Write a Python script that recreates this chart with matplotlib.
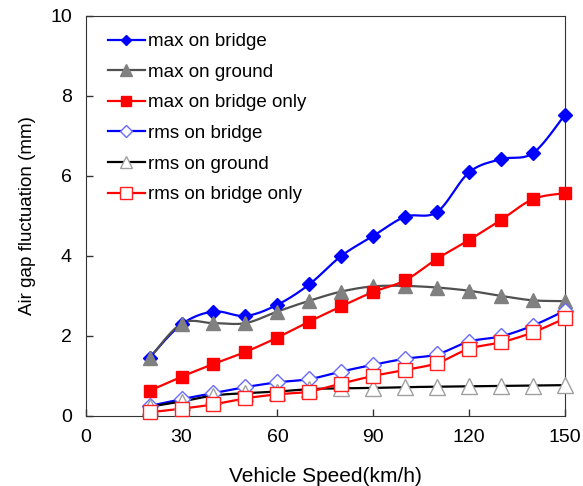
import numpy as np
import matplotlib
matplotlib.use("Agg")
import matplotlib.pyplot as plt

plt.rcParams['font.family'] = ['Liberation Sans', 'DejaVu Sans']

speed = [20, 30, 40, 50, 60, 70, 80, 90, 100, 110, 120, 130, 140, 150]

max_bridge = [1.45, 2.28, 2.60, 2.49, 2.77, 3.28, 3.99, 4.49, 4.97, 5.09, 6.08, 6.41, 6.56, 7.52]
max_ground = [1.43, 2.30, 2.31, 2.31, 2.60, 2.87, 3.10, 3.23, 3.24, 3.20, 3.12, 2.99, 2.88, 2.86]
max_bridge_only = [0.62, 0.97, 1.29, 1.59, 1.95, 2.35, 2.73, 3.09, 3.38, 3.92, 4.39, 4.89, 5.41, 5.56]
rms_bridge = [0.24, 0.41, 0.56, 0.71, 0.83, 0.91, 1.10, 1.27, 1.42, 1.53, 1.85, 1.98, 2.25, 2.62]
rms_ground = [0.22, 0.35, 0.50, 0.56, 0.60, 0.66, 0.68, 0.69, 0.71, 0.72, 0.73, 0.74, 0.75, 0.76]
rms_bridge_only = [0.08, 0.17, 0.28, 0.43, 0.53, 0.60, 0.80, 0.99, 1.14, 1.31, 1.67, 1.83, 2.08, 2.43]


def smooth(x, y, n=20):
    # Catmull-Rom curve through the points (like a spreadsheet "smoothed line")
    p = np.column_stack([x, y]).astype(float)
    p = np.vstack([p[0], p, p[-1]])
    out = []
    t = np.linspace(0, 1, n, endpoint=False)[:, None]
    for i in range(1, len(p) - 2):
        p0, p1, p2, p3 = p[i - 1], p[i], p[i + 1], p[i + 2]
        seg = 0.5 * ((2 * p1) + (-p0 + p2) * t + (2 * p0 - 5 * p1 + 4 * p2 - p3) * t ** 2
                     + (-p0 + 3 * p1 - 3 * p2 + p3) * t ** 3)
        out.append(seg)
    out.append(p[-2][None, :])
    out = np.vstack(out)
    return out[:, 0], out[:, 1]


series = [
    ("max on bridge", max_bridge, dict(color='#0000ff'), dict(marker='D', ms=7, mfc='#0000ff', mec='#0000ff')),
    ("max on ground", max_ground, dict(color='#505050'), dict(marker='^', ms=10, mfc='#808080', mec='#808080')),
    ("max on bridge only", max_bridge_only, dict(color='#ff0000'), dict(marker='s', ms=9, mfc='#ff0000', mec='#ff0000')),
    ("rms on bridge", rms_bridge, dict(color='#0000ff'), dict(marker='D', ms=8, mfc='white', mec='#6a6aff')),
    ("rms on ground", rms_ground, dict(color='#000000'), dict(marker='^', ms=11, mfc='white', mec='#a0a0a0')),
    ("rms on bridge only", rms_bridge_only, dict(color='#ff0000'), dict(marker='s', ms=10, mfc='white', mec='#ff2020')),
]

fig = plt.figure(figsize=(5.83, 4.86), dpi=100)
ax = fig.add_axes([0.147, 0.145, 0.822, 0.823])

handles = []
for label, vals, lstyle, mstyle in series:
    sx, sy = smooth(speed, vals)
    ax.plot(sx, sy, lw=1.6, zorder=2, clip_on=False, **lstyle)
    ax.plot(speed, vals, ls='none', zorder=3, mew=1.0, clip_on=False, **mstyle)
    h, = ax.plot([], [], lw=1.6, label=label, mew=1.0, **lstyle,
                 **{k: (v * 0.8 if k == 'ms' else v) for k, v in mstyle.items()})
    handles.append(h)

ax.set_xlim(0, 150)
ax.set_ylim(0, 10)
ax.set_xticks(range(0, 151, 30))
ax.set_yticks(range(0, 11, 2))
ax.tick_params(direction='in', length=5, labelsize=14, pad=10, width=1, color='#333333')
for s in ax.spines.values():
    s.set_color('#333333')
ax.set_xlabel("Vehicle Speed(km/h)", fontsize=15, labelpad=15)
ax.set_ylabel("Air gap fluctuation (mm)", fontsize=13.5, labelpad=10)

ax.legend(handles=handles, loc='upper left', frameon=False, fontsize=13.5,
          handlelength=2.0, handletextpad=0.15, labelspacing=0.72,
          borderaxespad=0.0, bbox_to_anchor=(0.03, 0.975))

fig.savefig("out.png", dpi=100)
